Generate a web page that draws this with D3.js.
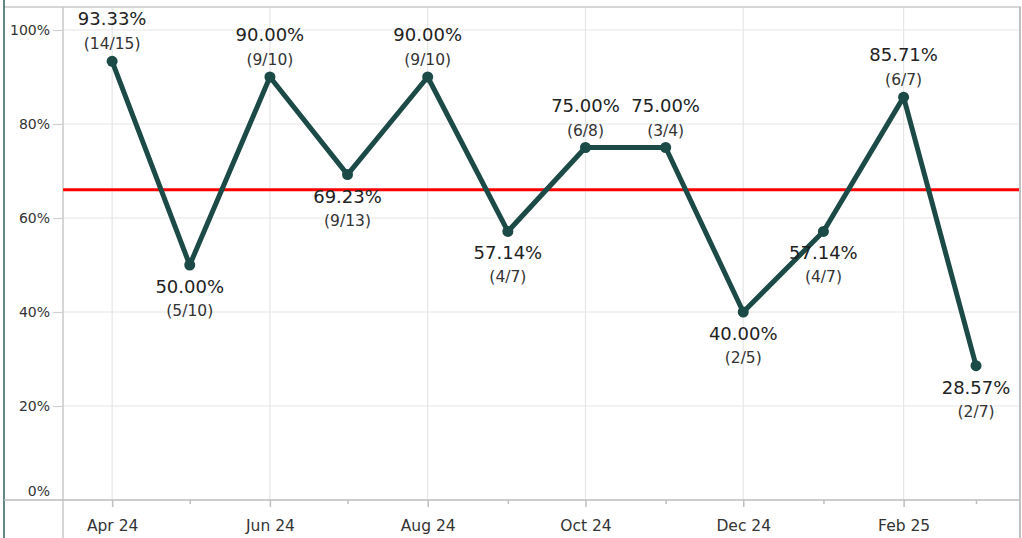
<!DOCTYPE html>
<html>
<head>
<meta charset="utf-8">
<script src="https://cdn.jsdelivr.net/npm/d3@7"></script>
<style>
  html, body { margin: 0; padding: 0; background: #fff; }
  svg { display: block; font-family: "DejaVu Sans", sans-serif; }
</style>
</head>
<body>
<svg id="chart" width="1022" height="538"></svg>
<script>
const months = ["2024-04-01","2024-05-01","2024-06-01","2024-07-01","2024-08-01","2024-09-01","2024-10-01","2024-11-01","2024-12-01","2025-01-01","2025-02-01","2025-03-01"];
const successes = [14, 5, 9, 9, 9, 4, 6, 3, 2, 4, 6, 2];
const totals = [15, 10, 10, 13, 10, 7, 8, 4, 5, 7, 7, 7];
const labelAbove = [true, false, true, false, true, false, true, true, false, false, true, false];
const referenceValue = 0.66;
const yTicks = [0, 0.2, 0.4, 0.6, 0.8, 1.0];
const xMajorTicks = ["2024-04-01","2024-06-01","2024-08-01","2024-10-01","2024-12-01","2025-02-01"];
const xMinorTicks = ["2024-05-01","2024-07-01","2024-09-01","2024-11-01","2025-01-01","2025-03-01"];

const parse = d3.timeParse("%Y-%m-%d");
const data = months.map((m, i) => ({
  date: parse(m), s: successes[i], t: totals[i], v: successes[i] / totals[i], above: labelAbove[i]
}));

const svg = d3.select("#chart");
const pLeft = 63, pRight = 1020, pTop = 7, pBottom = 500;

const x = d3.scaleTime()
  .domain([parse("2024-03-13"), parse("2025-03-18")])
  .range([pLeft, pRight]);
const y = d3.scaleLinear().domain([0, 1.049]).range([pBottom, pBottom - 1.049 * 470]);

// gridlines
svg.append("g").selectAll("line").data(yTicks.slice(1)).join("line")
  .attr("x1", pLeft).attr("x2", pRight)
  .attr("y1", d => y(d)).attr("y2", d => y(d))
  .attr("stroke", "#e6e6e6").attr("stroke-width", 1.2);
svg.append("g").selectAll("line").data(xMajorTicks.map(parse)).join("line")
  .attr("x1", d => x(d)).attr("x2", d => x(d))
  .attr("y1", pTop).attr("y2", pBottom)
  .attr("stroke", "#e6e6e6").attr("stroke-width", 1.2);

// frame lines
svg.append("line").attr("x1", 4).attr("x2", 1021).attr("y1", pTop).attr("y2", pTop).attr("stroke", "#c8c8c8").attr("stroke-width", 1.5);
svg.append("line").attr("x1", 1020).attr("x2", 1020).attr("y1", pTop).attr("y2", 538).attr("stroke", "#c0c0c0").attr("stroke-width", 2);
svg.append("line").attr("x1", 4).attr("x2", 4).attr("y1", 0).attr("y2", 538).attr("stroke", "#2f5f5b").attr("stroke-width", 1.5);
svg.append("line").attr("x1", pLeft).attr("x2", pLeft).attr("y1", pTop).attr("y2", 538).attr("stroke", "#c8c8c8").attr("stroke-width", 1.5);
svg.append("line").attr("x1", 4).attr("x2", 1020).attr("y1", pBottom).attr("y2", pBottom).attr("stroke", "#bdbdbd").attr("stroke-width", 1.5);

// y axis
const yAxis = d3.axisLeft(y).tickValues(yTicks).tickFormat(d3.format(".0%")).tickSize(10).tickSizeOuter(0);
const gy = svg.append("g").attr("transform", `translate(${pLeft},0)`).call(yAxis);
gy.select(".domain").remove();
gy.selectAll(".tick line").attr("stroke", "#d0d0d0").attr("stroke-width", 1.2);
gy.selectAll(".tick text").attr("font-size", 14).attr("fill", "#333").attr("font-family", "DejaVu Sans, sans-serif").attr("x", -13);
gy.selectAll(".tick").filter(d => d === 0).select("text").attr("dy", "-0.35em");
gy.selectAll(".tick").filter(d => d === 0).select("line").remove();

// x axis
const xAxis = d3.axisBottom(x).tickValues(xMajorTicks.map(parse)).tickFormat(d3.timeFormat("%b %y")).tickSize(7).tickPadding(13);
const gx = svg.append("g").attr("transform", `translate(0,${pBottom})`).call(xAxis);
gx.select(".domain").remove();
gx.selectAll(".tick line").attr("stroke", "#c0c0c0").attr("stroke-width", 1.5);
gx.selectAll(".tick text").attr("font-size", 15.5).attr("fill", "#333").attr("font-family", "DejaVu Sans, sans-serif");
const xAxisMinor = d3.axisBottom(x).tickValues(xMinorTicks.map(parse)).tickFormat("").tickSize(4);
const gxm = svg.append("g").attr("transform", `translate(0,${pBottom})`).call(xAxisMinor);
gxm.select(".domain").remove();
gxm.selectAll(".tick line").attr("stroke", "#c0c0c0").attr("stroke-width", 1.5);

// reference line
svg.append("line").attr("x1", pLeft).attr("x2", pRight - 1)
  .attr("y1", y(referenceValue)).attr("y2", y(referenceValue))
  .attr("stroke", "#ff0000").attr("stroke-width", 3);

// series line
const line = d3.line().x(d => x(d.date)).y(d => y(d.v));
svg.append("path").datum(data).attr("d", line)
  .attr("fill", "none").attr("stroke", "#1b4a47").attr("stroke-width", 5).attr("stroke-linejoin", "round");
svg.append("g").selectAll("circle").data(data).join("circle")
  .attr("cx", d => x(d.date)).attr("cy", d => y(d.v)).attr("r", 5.5).attr("fill", "#1b4a47");

// labels
const lab = svg.append("g").attr("font-family", "DejaVu Sans, sans-serif").attr("text-anchor", "middle");
lab.selectAll("text.pct").data(data).join("text").attr("class", "pct")
  .attr("x", d => x(d.date))
  .attr("y", d => y(d.v) + (d.above ? -36 : 28))
  .attr("font-size", 18).attr("fill", "#222")
  .text(d => d3.format(".2%")(d.v));
lab.selectAll("text.cnt").data(data).join("text").attr("class", "cnt")
  .attr("x", d => x(d.date))
  .attr("y", d => y(d.v) + (d.above ? -12 : 51))
  .attr("font-size", 15.5).attr("fill", "#333")
  .text(d => `(${d.s}/${d.t})`);
</script>
</body>
</html>
